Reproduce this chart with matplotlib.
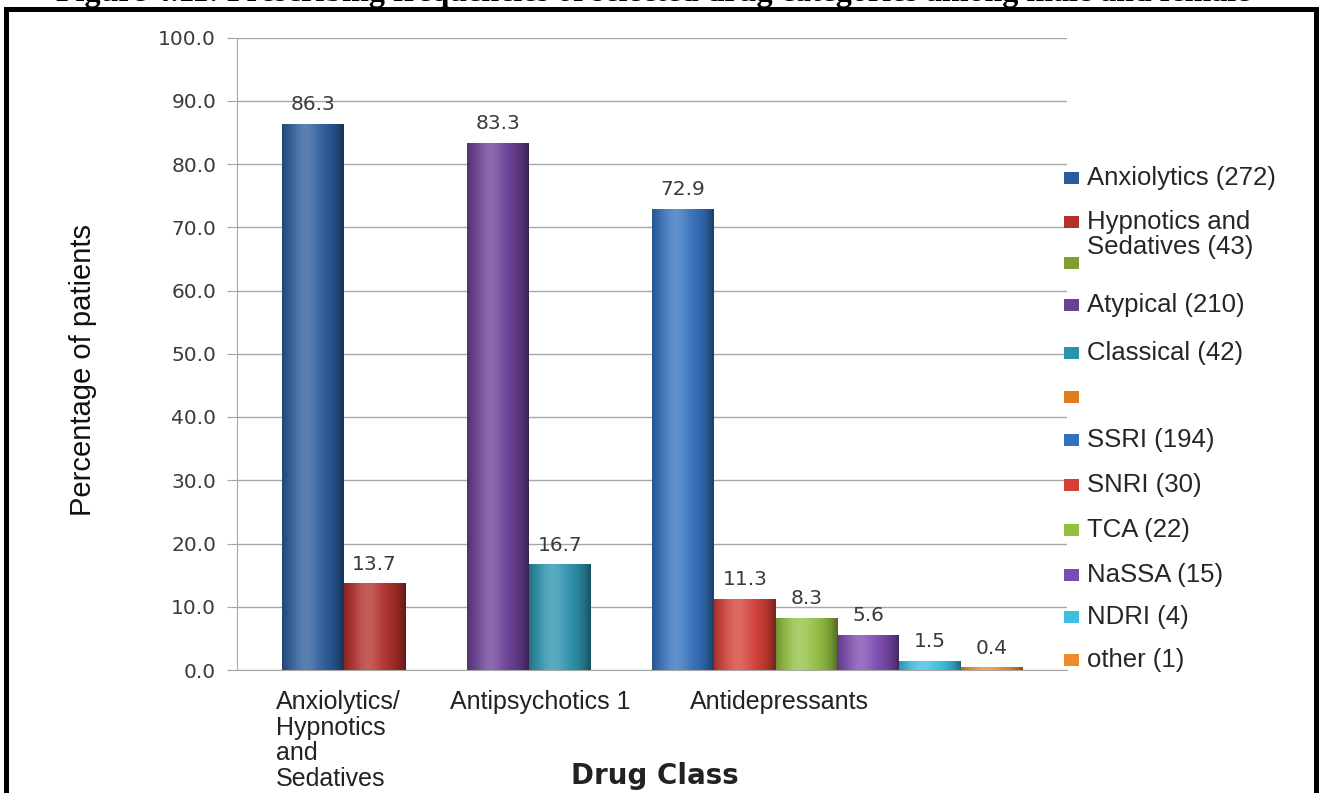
import numpy as np
import matplotlib
import matplotlib.pyplot as plt
from matplotlib.patches import Rectangle
from matplotlib.colors import to_rgb

matplotlib.use("Agg")

W, H = 1320, 793

groups = ["Anxiolytics/\nHypnotics\nand\nSedatives", "Antipsychotics 1", "Antidepressants"]
group_values = [
    [86.3, 13.7],
    [83.3, 16.7],
    [72.9, 11.3, 8.3, 5.6, 1.5, 0.4],
]
group_colors = [
    ["#2b5d9b", "#b3302c"],
    ["#6a3f96", "#2c93ad"],
    ["#3471bd", "#d63f38", "#94c042", "#7c4bb0", "#3cbfe0", "#ee8b2a"],
]

legend_labels = [
    "Anxiolytics (272)", "Hypnotics and\nSedatives (43)", "",
    "Atypical (210)", "Classical (42)", "",
    "SSRI (194)", "SNRI (30)", "TCA (22)", "NaSSA (15)", "NDRI (4)", "other (1)",
]
legend_colors = [
    "#2b5d9b", "#b3302c", "#7f9f2e",
    "#6a3f96", "#2c93ad", "#e07b22",
    "#3471bd", "#d63f38", "#94c042", "#7c4bb0", "#3cbfe0", "#ee8b2a",
]

yticks = np.arange(0, 101, 10)

GRID = "#a6a6a6"
px = lambda x, y: (x / W, 1 - y / H)


def shaded_bar(ax, bar, color):
    # rounded-cylinder look: dark edges, soft highlight left of centre
    base = np.array(to_rgb(color))
    t = np.linspace(0, 1, 64)
    light = np.exp(-((t - 0.38) / 0.22) ** 2) * 0.22
    dark = (np.abs(t - 0.45) / 0.55) ** 3 * 0.45
    rows = base[None, :] * (1 - dark[:, None]) + (1 - base[None, :]) * light[:, None]
    img = np.clip(rows, 0, 1)[None, :, :]
    x0, y0 = bar.get_x(), bar.get_y()
    im = ax.imshow(img, extent=(x0, x0 + bar.get_width(), y0, y0 + bar.get_height()),
                   aspect="auto", interpolation="bilinear", zorder=3)
    im.set_clip_path(bar)


fig = plt.figure(figsize=(W / 100, H / 100), dpi=100)
ax = fig.add_axes([237 / W, 1 - 670 / H, (1067 - 237) / W, (670 - 37.5) / H])

for g, (vals, cols) in enumerate(zip(group_values, group_colors)):
    xs = 3 * g + np.arange(len(vals))
    bars = ax.bar(xs, vals, width=1.0, align="edge", color=cols, zorder=2, linewidth=0)
    for bar, c, v in zip(bars, cols, vals):
        shaded_bar(ax, bar, c)
        ax.annotate(f"{v:.1f}", (bar.get_x() + 0.5, v), xytext=(0, 7),
                    textcoords="offset points", ha="center", va="bottom",
                    fontsize=14.5, color="#3a3a3a", family="DejaVu Sans")

ax.set_xlim(-0.73, 12.72)
ax.set_ylim(0, 100)
ax.set_yticks(yticks)
ax.set_yticklabels([f"{v:.1f}" for v in yticks], fontsize=14.5, color="#3a3a3a",
                   family="DejaVu Sans")
ax.tick_params(axis="y", length=7, color=GRID, pad=8)
ax.set_xticks([])
ax.grid(axis="y", color=GRID, linewidth=1, zorder=0)
ax.set_axisbelow(True)
for side in ["top", "right"]:
    ax.spines[side].set_visible(False)
ax.spines["left"].set_color(GRID)
ax.spines["bottom"].set_color(GRID)

# category labels under each cluster
label_x = [276, 450, 690]
for lx, name in zip(label_x, groups):
    fig.text(*px(lx, 690), name, ha="left", va="top", fontsize=18,
             color="#222222", family="Liberation Sans", linespacing=1.08)

fig.text(*px(655, 776), "Drug Class", ha="center", va="center",
         fontsize=20, fontweight="bold", color="#222222", family="DejaVu Sans")
fig.text(*px(83, 370), "Percentage of patients", rotation=90, ha="center",
         va="center", fontsize=21, color="#111111", family="Liberation Sans")

# legend column: marker rows, multi-line labels hang below their marker
legend_rows = [178, 222, 263, 305, 353, 397, 440, 485, 530, 575, 617, 660]
line_pitch = 25
for y, lab, c in zip(legend_rows, legend_labels, legend_colors):
    fig.add_artist(Rectangle(px(1064, y + 6), 15 / W, 12 / H, transform=fig.transFigure,
                             facecolor=c, edgecolor="none"))
    if lab:
        n = lab.count("\n")
        fig.text(*px(1087, y + n * line_pitch / 2), lab, ha="left", va="center",
                 fontsize=18.5, color="#262626", family="Liberation Sans", linespacing=1.05)

# caption running off the top edge and the page frame
fig.text(*px(56, 1.5),
         "Figure 4.11: Prescribing frequencies of selected drug categories among male and female",
         ha="left", va="baseline", fontsize=23, fontweight="bold", family="Liberation Serif")
fig.add_artist(Rectangle((5.5 / W, -0.2), (1316 - 5.5) / W, 1.2 - 9 / H, transform=fig.transFigure,
                         fill=False, edgecolor="black", linewidth=3.6))

fig.savefig("out.png", dpi=100, facecolor="white")
